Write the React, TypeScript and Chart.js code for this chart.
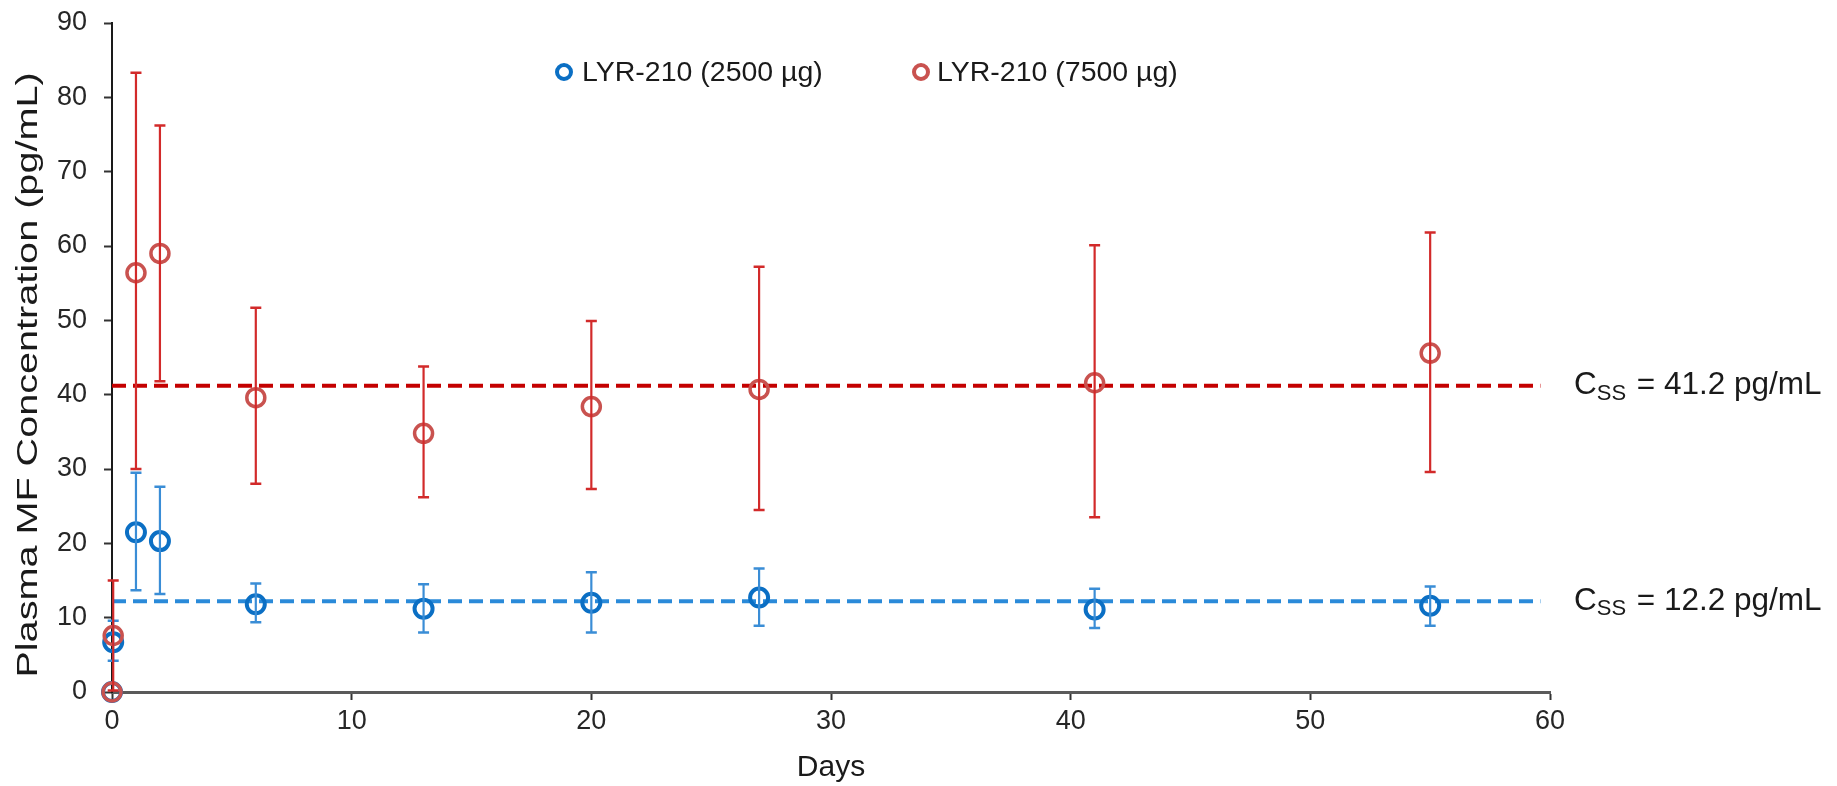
import React, { useEffect, useRef } from 'react';
import { Chart, registerables } from 'chart.js';

Chart.register(...registerables);

// ---- Data ----
const days = [0, 0.05, 1, 2, 6, 13, 20, 27, 41, 55];
const mean2500 = [0, 6.7, 21.5, 20.3, 11.8, 11.2, 12.0, 12.7, 11.1, 11.6];
const low2500 = [0, 4.2, 13.7, 13.2, 9.4, 8.0, 8.0, 8.9, 8.6, 8.9];
const high2500 = [0, 9.6, 29.5, 27.6, 14.6, 14.5, 16.1, 16.6, 13.9, 14.2];
const mean7500 = [0, 7.6, 56.4, 59.0, 39.6, 34.8, 38.4, 40.7, 41.6, 45.6];
const low7500 = [0, 0.2, 30.0, 41.8, 28.0, 26.2, 27.3, 24.5, 23.5, 29.6];
const high7500 = [0, 15.0, 83.3, 76.2, 51.7, 43.8, 49.9, 57.2, 60.1, 61.8];
const css2500 = 12.2;
const css7500 = 41.2;
const cssLineDays = [0, 59.6];
const seriesLabels = ['LYR-210 (2500 µg)', 'LYR-210 (7500 µg)'];
const cssLabels = [' = 12.2 pg/mL', ' = 41.2 pg/mL'];
const yTitle = 'Plasma MF Concentration (pg/mL)';
const xTitle = 'Days';

const FONT = '"Liberation Sans", Arial, Helvetica, sans-serif';
const BLUE_MARK = '#0B6FC4';
const BLUE_ERR = '#3A8DD6';
const BLUE_DASH = '#2A8AD9';
const RED_MARK = '#C9524F';
const RED_ERR = '#D22A2A';
const RED_DASH = '#C40000';

const errorBarPlugin = {
  id: 'errorBars',
  afterDatasetsDraw(chart: any) {
    const { ctx, scales } = chart;
    const xs = scales.x;
    const ys = scales.y;
    const draw = (lows: number[], highs: number[], color: string) => {
      ctx.save();
      ctx.strokeStyle = color;
      for (let i = 0; i < days.length; i++) {
        if (lows[i] === highs[i]) continue;
        const px = xs.getPixelForValue(days[i]);
        const pl = ys.getPixelForValue(lows[i]);
        const ph = ys.getPixelForValue(highs[i]);
        ctx.lineWidth = 2.2;
        ctx.beginPath();
        ctx.moveTo(px, pl);
        ctx.lineTo(px, ph);
        ctx.stroke();
        ctx.lineWidth = 2.5;
        ctx.beginPath();
        ctx.moveTo(px - 5.5, ph);
        ctx.lineTo(px + 5.5, ph);
        ctx.moveTo(px - 5.5, pl);
        ctx.lineTo(px + 5.5, pl);
        ctx.stroke();
      }
      ctx.restore();
    };
    draw(low2500, high2500, BLUE_ERR);
    draw(low7500, high7500, RED_ERR);
  },
  afterDraw(chart: any) {
    const { ctx, scales } = chart;
    const ys = scales.y;
    ctx.save();
    // y axis title (stretched along its length like the reference)
    ctx.save();
    ctx.translate(29, 375);
    ctx.rotate(-Math.PI / 2);
    ctx.scale(1.32, 1);
    ctx.fillStyle = '#1a1a1a';
    ctx.font = `30px ${FONT}`;
    ctx.textAlign = 'center';
    ctx.textBaseline = 'middle';
    ctx.fillText(yTitle, 0, 0);
    ctx.restore();
    // legend
    const legendY = 72;
    const items = [
      { x: 564, tx: 582, color: BLUE_MARK, text: seriesLabels[0] },
      { x: 921, tx: 937, color: RED_MARK, text: seriesLabels[1] },
    ];
    ctx.textBaseline = 'middle';
    ctx.textAlign = 'left';
    for (const it of items) {
      ctx.beginPath();
      ctx.strokeStyle = it.color;
      ctx.lineWidth = 4;
      ctx.arc(it.x, legendY, 7, 0, Math.PI * 2);
      ctx.stroke();
      ctx.fillStyle = '#1a1a1a';
      ctx.font = `28.5px ${FONT}`;
      ctx.fillText(it.text, it.tx, legendY + 1);
    }
    // Css annotations
    const annos = [
      { v: css7500, t: cssLabels[1] },
      { v: css2500, t: cssLabels[0] },
    ];
    for (const a of annos) {
      const y = ys.getPixelForValue(a.v);
      let x = 1574;
      ctx.fillStyle = '#1a1a1a';
      ctx.font = `31.5px ${FONT}`;
      ctx.fillText('C', x, y);
      x += ctx.measureText('C').width;
      ctx.font = `22px ${FONT}`;
      ctx.fillText('SS', x, y + 8);
      x += ctx.measureText('SS').width + 2;
      ctx.font = `31.5px ${FONT}`;
      ctx.fillText(a.t, x, y);
    }
    ctx.restore();
  },
};

export default function App() {
  const ref = useRef<HTMLCanvasElement | null>(null);
  useEffect(() => {
    document.body.style.margin = '0';
    const canvas = ref.current!;
    const pts = (ys: number[]) => days.map((d, i) => ({ x: d, y: ys[i] }));
    const chart = new Chart(canvas, {
      type: 'scatter',
      data: {
        datasets: [
          {
            type: 'line',
            label: 'Css 7500',
            data: cssLineDays.map((d) => ({ x: d, y: css7500 })),
            borderColor: RED_DASH,
            borderWidth: 4,
            borderDash: [14, 7],
            pointRadius: 0,
            fill: false,
            order: 4,
          } as any,
          {
            type: 'line',
            label: 'Css 2500',
            data: cssLineDays.map((d) => ({ x: d, y: css2500 })),
            borderColor: BLUE_DASH,
            borderWidth: 4,
            borderDash: [14, 7],
            pointRadius: 0,
            fill: false,
            order: 3,
          } as any,
          {
            label: seriesLabels[0],
            data: pts(mean2500),
            borderColor: BLUE_MARK,
            backgroundColor: 'rgba(0,0,0,0)',
            pointRadius: 9,
            pointBorderWidth: 4,
            pointHoverRadius: 9,
            clip: false as any,
            order: 2,
          },
          {
            label: seriesLabels[1],
            data: pts(mean7500),
            borderColor: RED_MARK,
            backgroundColor: 'rgba(0,0,0,0)',
            pointRadius: 9,
            pointBorderWidth: 3.5,
            pointHoverRadius: 9,
            clip: false as any,
            order: 1,
          },
        ],
      },
      options: {
        animation: false,
        responsive: false,
        devicePixelRatio: 1,
        layout: { autoPadding: false, padding: { left: 0, top: 23, right: 287, bottom: 0 } } as any,
        plugins: {
          legend: { display: false },
          tooltip: { enabled: false },
        },
        scales: {
          x: {
            type: 'linear',
            min: 0,
            max: 60,
            ticks: { stepSize: 10, color: '#262626', font: { size: 27, family: FONT }, padding: 5 },
            grid: { display: true, drawOnChartArea: false, drawTicks: true, tickLength: 8, tickWidth: 2, tickColor: '#333' },
            border: { display: true, color: '#5a5a5a', width: 3 },
            title: { display: true, text: xTitle, color: '#1a1a1a', font: { size: 30, family: FONT }, padding: 0 },
            afterFit: (s: any) => { s.height = 94; },
          },
          y: {
            type: 'linear',
            min: 0,
            max: 90,
            ticks: { stepSize: 10, color: '#262626', font: { size: 27, family: FONT }, padding: 17 },
            grid: { display: true, drawOnChartArea: false, drawTicks: true, tickLength: 8, tickWidth: 2, tickColor: '#333' },
            border: { display: true, color: '#1a1a1a', width: 2 },
            title: { display: false },
            afterFit: (s: any) => {
              s.width = 112;
              s.paddingTop = 10;
              s.paddingBottom = 10;
            },
          },
        },
      },
      plugins: [errorBarPlugin],
    });
    return () => chart.destroy();
  }, []);
  return (
    <div style={{ width: 1837, height: 786 }}>
      <canvas ref={ref} width={1837} height={786} style={{ display: 'block' }} />
    </div>
  );
}
